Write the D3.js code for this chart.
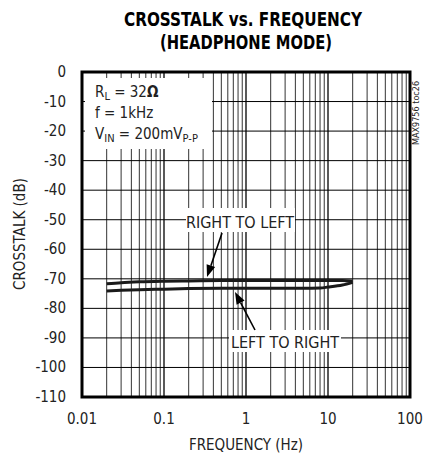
<!DOCTYPE html>
<html>
<head>
<meta charset="utf-8">
<script src="https://cdn.jsdelivr.net/npm/d3@7"></script>
<style>
  body { margin: 0; background: #fff; }
  svg { display: block; }
  text { font-family: "Liberation Sans Narrow", "DejaVu Sans Condensed", sans-serif; fill: #222; }
</style>
</head>
<body>
<svg id="chart" width="425" height="457"></svg>
<script>
// data
const freqHz = [0.02, 0.03, 0.05, 0.1, 0.2, 0.5, 1, 2, 5, 8, 10, 15, 20];
const rightToLeft = [-71.7, -71.3, -71.0, -70.8, -70.7, -70.6, -70.6, -70.6, -70.6, -70.6, -70.6, -70.6, -70.7];
const leftToRight = [-74.1, -73.9, -73.7, -73.5, -73.3, -73.2, -73.2, -73.2, -73.2, -73.1, -72.8, -72.1, -71.2];
const xTicks = [0.01, 0.1, 1, 10, 100];
const xTickLabels = ["0.01", "0.1", "1", "10", "100"];
const yTicks = [0, -10, -20, -30, -40, -50, -60, -70, -80, -90, -100, -110];

const svg = d3.select("#chart");
const pLeft = 82, pRight = 410, pTop = 72, pBottom = 397;

const x = d3.scaleLog().domain([0.01, 100]).range([pLeft, pRight]);
const y = d3.scaleLinear().domain([0, -110]).range([pTop, pBottom]);

// minor + major vertical grid
let vLines = [];
for (let d = -2; d < 2; d++) {
  for (let k = 1; k < 10; k++) vLines.push(k * Math.pow(10, d));
}
vLines.push(100);

const grid = svg.append("g");
grid.selectAll(".v").data(vLines).join("line")
  .attr("x1", d => x(d)).attr("x2", d => x(d))
  .attr("y1", pTop).attr("y2", pBottom)
  .attr("stroke", (d, i) => i % 9 == 0 ? "#000" : "#333")
  .attr("stroke-width", (d, i) => i % 9 == 0 ? 1.3 : 1);

grid.selectAll(".h").data(yTicks).join("line")
  .attr("x1", pLeft).attr("x2", pRight)
  .attr("y1", d => y(d)).attr("y2", d => y(d))
  .attr("stroke", "#000").attr("stroke-width", 1);

// white boxes over the grid
svg.append("rect").attr("x", 85).attr("y", 78).attr("width", 127).attr("height", 71).attr("fill", "#fff");
svg.append("rect").attr("x", 186).attr("y", 208).attr("width", 109).attr("height", 24).attr("fill", "#fff");
svg.append("rect").attr("x", 229).attr("y", 330).attr("width", 112).attr("height", 22).attr("fill", "#fff");

// frame
svg.append("rect")
  .attr("x", pLeft).attr("y", pTop)
  .attr("width", pRight - pLeft).attr("height", pBottom - pTop)
  .attr("fill", "none").attr("stroke", "#000").attr("stroke-width", 3);

// curves
const line = d3.line()
  .x((d, i) => x(freqHz[i]))
  .y(d => y(d))
  .curve(d3.curveMonotoneX);

[rightToLeft, leftToRight].forEach(s => {
  svg.append("path").datum(s)
    .attr("d", line)
    .attr("fill", "none")
    .attr("stroke", "#1a1a1a")
    .attr("stroke-width", 3)
    .attr("stroke-linejoin", "round");
});

// arrows
function arrow(x1, y1, x2, y2) {
  const ang = Math.atan2(y2 - y1, x2 - x1);
  const len = 12, w = 4.5;
  const bx = x2 - len * Math.cos(ang), by = y2 - len * Math.sin(ang);
  svg.append("line")
    .attr("x1", x1).attr("y1", y1).attr("x2", bx).attr("y2", by)
    .attr("stroke", "#000").attr("stroke-width", 1.6);
  const px = -Math.sin(ang) * w, py = Math.cos(ang) * w;
  svg.append("path")
    .attr("d", "M" + x2 + "," + y2 + "L" + (bx + px) + "," + (by + py) + "L" + (bx - px) + "," + (by - py) + "Z")
    .attr("fill", "#000");
}
arrow(222, 233, 207, 277);
arrow(255, 330, 235, 292);

svg.append("text").attr("x", 240).attr("y", 228).attr("text-anchor", "middle")
  .attr("font-size", 16).text("RIGHT TO LEFT");
svg.append("text").attr("x", 285).attr("y", 348).attr("text-anchor", "middle")
  .attr("font-size", 16).text("LEFT TO RIGHT");

// conditions box text
const cond = svg.append("g").attr("font-size", 15);
let t1 = cond.append("text").attr("x", 95).attr("y", 97);
t1.append("tspan").text("R");
t1.append("tspan").attr("font-size", 11).attr("dy", 3).text("L");
t1.append("tspan").attr("dy", -3).text(" = 32");
t1.append("tspan").attr("font-weight", "bold").text("Ω");

cond.append("text").attr("x", 95).attr("y", 118).text("f = 1kHz");

let t3 = cond.append("text").attr("x", 95).attr("y", 139);
t3.append("tspan").text("V");
t3.append("tspan").attr("font-size", 11).attr("dy", 3).text("IN");
t3.append("tspan").attr("dy", -3).text(" = 200mV");
t3.append("tspan").attr("font-size", 11).attr("dy", 3).text("P-P");

// tick labels
svg.selectAll(".yl").data(yTicks).join("text")
  .attr("x", 66).attr("y", d => y(d) + 5)
  .attr("text-anchor", "end").attr("font-size", 15)
  .text(d => d);

svg.selectAll(".xl").data(xTicks).join("text")
  .attr("x", d => x(d)).attr("y", 424)
  .attr("text-anchor", "middle").attr("font-size", 15)
  .text((d, i) => xTickLabels[i]);

// axis titles
svg.append("text").attr("x", 246).attr("y", 450)
  .attr("text-anchor", "middle").attr("font-size", 15)
  .text("FREQUENCY (Hz)");
svg.append("text")
  .attr("transform", "translate(25,234) rotate(-90)")
  .attr("text-anchor", "middle").attr("font-size", 15)
  .text("CROSSTALK (dB)");

// chart title
svg.append("text").attr("x", 243).attr("y", 26)
  .attr("text-anchor", "middle").attr("font-size", 20).attr("font-weight", "bold")
  .attr("textLength", 238).attr("lengthAdjust", "spacingAndGlyphs")
  .style("fill", "#000")
  .text("CROSSTALK vs. FREQUENCY");
svg.append("text").attr("x", 246).attr("y", 49)
  .attr("text-anchor", "middle").attr("font-size", 20).attr("font-weight", "bold")
  .attr("textLength", 172).attr("lengthAdjust", "spacingAndGlyphs")
  .style("fill", "#000")
  .text("(HEADPHONE MODE)");

// side code
svg.append("text")
  .attr("transform", "translate(419,145) rotate(-90)")
  .attr("font-size", 9)
  .text("MAX9756 toc26");
</script>
</body>
</html>
